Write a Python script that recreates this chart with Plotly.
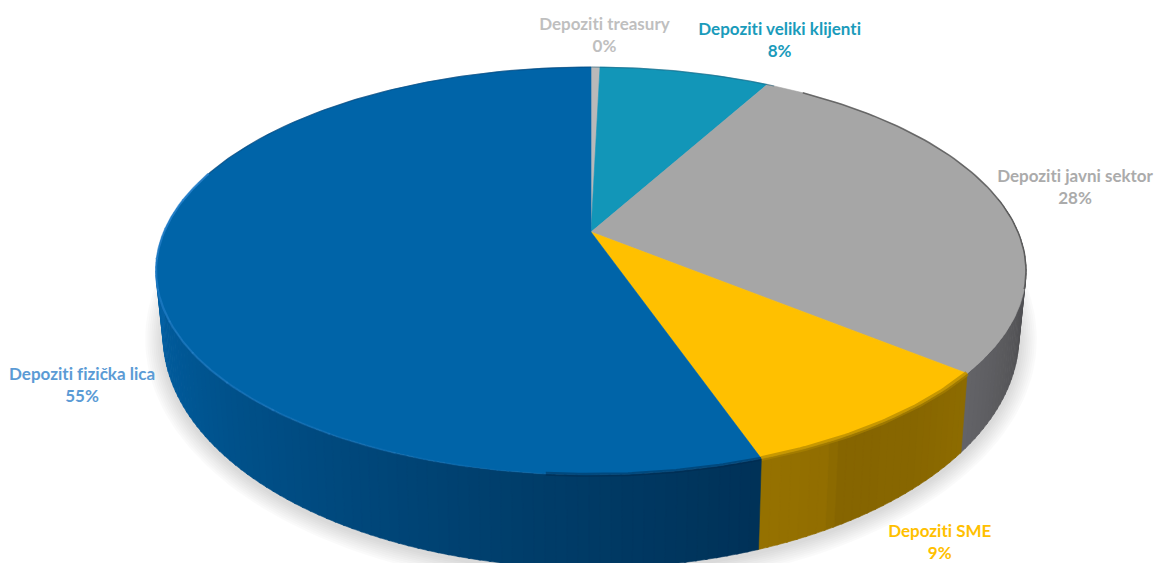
import numpy as np
import plotly.graph_objects as go

# Data, clockwise from 12 o'clock
categories = ["Depoziti treasury", "Depoziti veliki klijenti", "Depoziti javni sektor", "Depoziti SME", "Depoziti fizička lica"]
shares = [0.4, 7.6, 27.9, 8.8, 55.3]
pct_labels = ["0%", "8%", "28%", "9%", "55%"]
top_colors = ["#B9B9B9", "#1296B8", "#A6A6A6", "#FFC000", "#0064A8"]
label_colors = ["#BFBFBF", "#1A9BBB", "#ABABAB", "#FFC000", "#5B9BD5"]
label_x = [604, 779, 1075, 940, 82]
label_y = [34, 39, 186, 541, 384]

# Side colour stops per slice: (position within visible slice, rgb)
side_stops = {
    2: [(0, (58, 58, 60)), (1, (100, 100, 104))],
    3: [(0, (142, 108, 0)), (0.3, (136, 103, 0)), (0.7, (134, 101, 0)), (0.72, (146, 110, 0)), (1, (150, 114, 0))],
    4: [(0, (0, 50, 88)), (0.25, (0, 64, 110)), (0.65, (0, 88, 150)), (1, (10, 106, 178))],
}

K = -0.191
def proj(t, A, a, b):
    u, v = np.sin(t), -np.cos(t)
    d = 1 + K * v
    return 591 + A * u / d, (a * v + b) / d
def top(t):
    return proj(t, 427, 152.2, 232)
def bot(t):
    return proj(t, 420, 167.8, 291.7)

def lerp(stops, s):
    for (p0, c0), (p1, c1) in zip(stops, stops[1:]):
        if s <= p1:
            f = (s - p0) / max(p1 - p0, 1e-6)
            return tuple(int(c0[i] + (c1[i] - c0[i]) * f) for i in range(3))
    return stops[-1][1]

fig = go.Figure()
def poly(x, y, color, line=None):
    fig.add_trace(go.Scatter(x=list(x), y=list(y), mode="lines", fill="toself", fillcolor=color,
                             line=dict(color=line or color, width=0.6 if line else 0), hoverinfo="skip", showlegend=False))

# Soft shadow below the drum
tt = np.linspace(0, 2 * np.pi, 240)
for grow in range(18, 0, -2):
    bx, by = bot(tt)
    poly(591 + (bx - 591) * (1 + grow / 428), 336 + (by - 336) * (1 + grow / 232) + 3,
         "rgba(0,0,0,0.018)")

edges = np.cumsum([0] + shares) / 100 * 2 * np.pi

# Drum side as thin strips
vis0, vis1 = np.radians(80), np.radians(283)
for i in (2, 3, 4):
    a0, a1 = max(edges[i], vis0), min(edges[i + 1], vis1)
    n = max(int((a1 - a0) / np.radians(1.2)), 2)
    ts = np.linspace(a0, a1, n + 1)
    for j in range(n):
        s = (j + 0.5) / n
        c = lerp(side_stops[i], s)
        seg = np.linspace(ts[j], ts[j + 1] + 0.004, 3)
        tx, ty = top(seg)
        bx, by = bot(seg[::-1])
        col = "rgb(%d,%d,%d)" % c
        poly(np.r_[tx, bx, tx[0]], np.r_[ty, by, ty[0]], col, line=col)

# Top face slices
for i, c in enumerate(top_colors):
    seg = np.linspace(edges[i], edges[i + 1], max(int(shares[i] * 6), 3))
    tx, ty = top(seg)
    poly(np.r_[591, tx, 591], np.r_[232, ty, 232], c, line=c)

# Rim: dark on the back, soft bevel on the front
def rim(t0, t1, color, width):
    seg = np.radians(np.linspace(t0, t1, 60))
    x, y = top(seg)
    fig.add_trace(go.Scatter(x=x, y=y, mode="lines", line=dict(color=color, width=width),
                             hoverinfo="skip", showlegend=False))
rim(35, 106, "rgba(70,70,70,0.7)", 1.6)
rim(285, 360, "rgba(0,60,110,0.5)", 1.2)
rim(0, 30, "rgba(20,90,120,0.5)", 1.2)
d = np.degrees(edges)
rim(d[3], d[4], "rgba(170,130,0,0.65)", 5)
rim(d[4], d[4] + 24, "rgba(0,40,75,0.45)", 4)
# Highlight that fades in towards the left of the drum
fade = np.linspace(d[4] + 24, 288, 13)
for j, (f0, f1) in enumerate(zip(fade, fade[1:])):
    rim(f0, f1 + 0.3, "rgba(43,133,208,%.2f)" % (0.08 + 0.72 * j / 11), 2.2)

annotations = [
    dict(x=x, y=y, xref="x", yref="y", text=f"{n}<br>{p}", showarrow=False, align="center",
         xanchor="center", yanchor="middle", font=dict(family="Lato", size=17, color=c, weight=700))
    for n, p, c, x, y in zip(categories, pct_labels, label_colors, label_x, label_y)
]

fig.update_layout(
    width=1155, height=563, margin=dict(l=0, r=0, t=0, b=0),
    paper_bgcolor="white", plot_bgcolor="white", showlegend=False,
    xaxis=dict(range=[0, 1155], visible=False, fixedrange=True),
    yaxis=dict(range=[563, 0], visible=False, fixedrange=True),
    annotations=annotations,
)
post = """
document.body.style.margin='0';document.body.style.overflow='hidden';
var st=document.createElement('style');
st.textContent='text,tspan{font-variant-ligatures:none !important;font-feature-settings:"liga" 0 !important} .scatterlayer{filter:blur(0.7px)}';
document.head.appendChild(st);
"""
fig.write_html("out.html", config={"displayModeBar": False}, post_script=post)
